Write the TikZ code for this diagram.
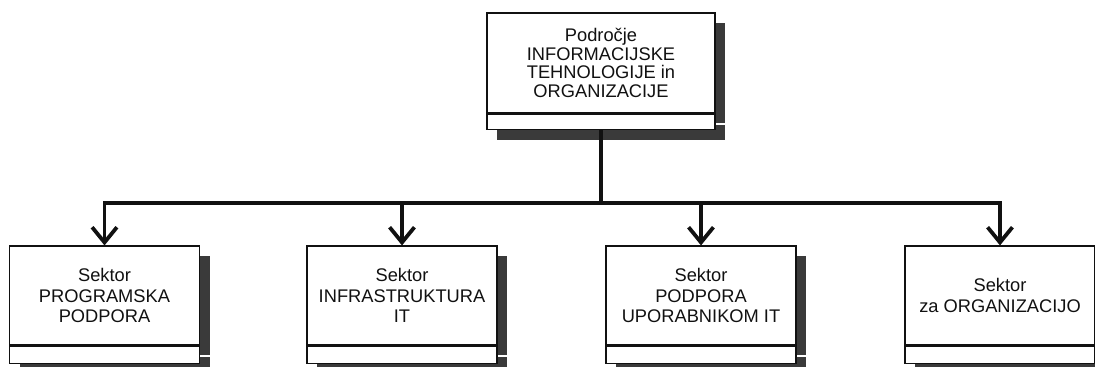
\documentclass[tikz,border=0pt]{standalone}
\usepackage{fontspec}
\setmainfont{Liberation Sans}
\usetikzlibrary{arrows.meta,positioning,shadows}
\usepackage{xcolor}
\definecolor{inkblack}{HTML}{111111}
\definecolor{shadowgrey}{HTML}{3A3A3A}
\tikzset{
  unit/.style  ={rectangle, draw=inkblack, fill=white, line width=0.8pt,
                 minimum width=4.75cm, minimum height=2.475cm, align=center,
                 inner sep=1pt, font=\fontsize{13}{14.8}\selectfont, text=inkblack,
                 general shadow={fill=shadowgrey, shadow xshift=0.26cm, shadow yshift=-0.26cm}},
  headunit/.style={unit, minimum width=5.7cm, minimum height=2.5cm,
                 font=\fontsize{13}{13.4}\selectfont},
  strip/.style ={rectangle, draw=inkblack, fill=white, line width=0.8pt,
                 minimum width=4.75cm, minimum height=0.425cm, inner sep=0pt,
                 general shadow={fill=shadowgrey, shadow xshift=0.26cm, shadow yshift=-0.26cm}},
  wire/.style  ={draw=inkblack, line width=2.8pt, line join=miter},
  feed/.style  ={wire, -{Straight Barb[length=3.8mm, width=6.2mm, line width=2.7pt]}},
}

\begin{document}
\begin{tikzpicture}[x=0.025cm, y=-0.025cm]
\useasboundingbox (0,0) rectangle (1095,367);

% ---------------- head of the area ----------------
\node[headunit] (head) at (601,63)
      {Področje\\INFORMACIJSKE\\TEHNOLOGIJE in\\ORGANIZACIJE};
\node[strip, minimum width=5.7cm, minimum height=0.375cm, below=0pt of head] (heads) {};

% ---------------- sectors ----------------
\node[unit] (s1) at ( 104.5,295.5) {Sektor\\PROGRAMSKA\\PODPORA};
\node[unit] (s2) at ( 402,295.5) {Sektor\\INFRASTRUKTURA\\IT};
\node[unit] (s3) at ( 701,295.5) {Sektor\\PODPORA\\UPORABNIKOM IT};
\node[unit] (s4) at (1000,295.5) {Sektor\\za ORGANIZACIJO};
\node[strip, below=0pt of s1] (s1s) {};
\node[strip, below=0pt of s2] (s2s) {};
\node[strip, below=0pt of s3] (s3s) {};
\node[strip, below=0pt of s4] (s4s) {};

% ---------------- connectors ----------------
\coordinate (hub) at (601,203);
\draw[wire] (heads.south) -- (hub);
\draw[feed] (hub) -| (s1.north);
\draw[feed] (hub) -| (s2.north);
\draw[feed] (hub) -| (s3.north);
\draw[feed] (hub) -| (s4.north);

\end{tikzpicture}
\end{document}
